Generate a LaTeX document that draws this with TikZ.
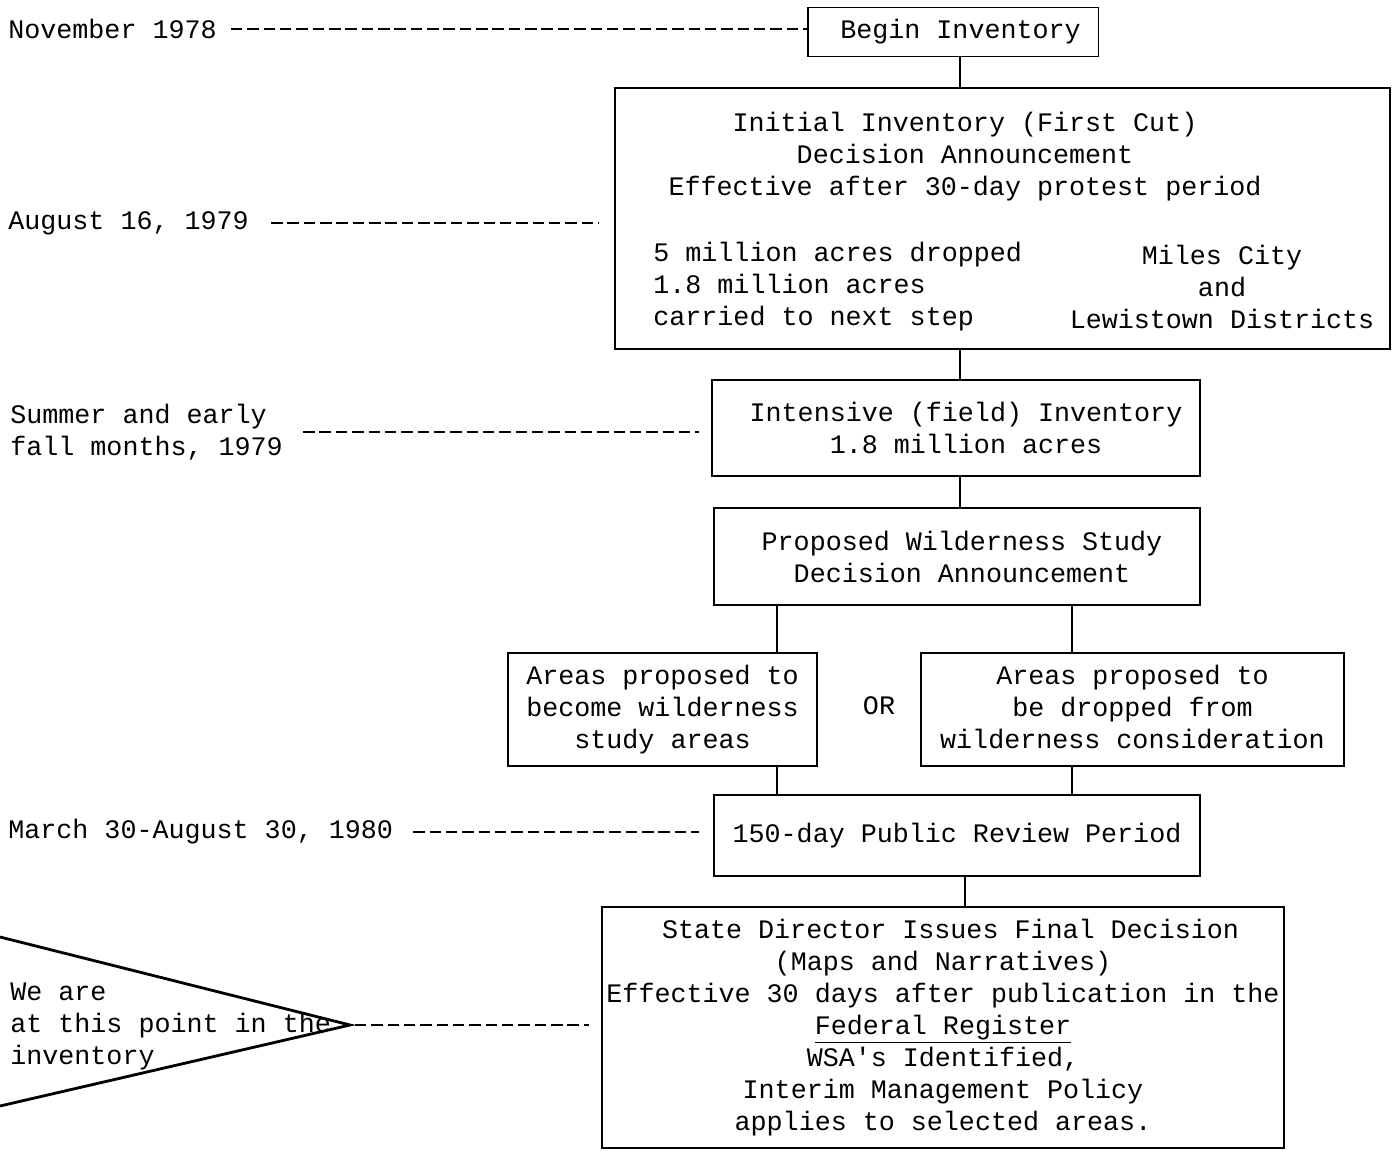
\documentclass[tikz,border=0pt]{standalone}
\usepackage{fontspec}
\setmonofont{Liberation Mono}
\usetikzlibrary{positioning,calc}

\begin{document}
\begin{tikzpicture}[x=0.02cm, y=-0.02cm,
  every node/.style={font=\ttfamily\fontsize{15.2}{18.2}\selectfont, inner sep=0pt},
  box/.style={draw, line width=1.1pt, align=center},
  lbl/.style={anchor=west, align=left},
  dashline/.style={line width=1.1pt, dash pattern=on 6.5pt off 2.8pt},
  link/.style={line width=1.3pt}]
  \useasboundingbox (0,0) rectangle (1392,1151);

  % x positions of the vertical links
  \coordinate (cx) at (960,0);
  \coordinate (lx) at (777,0);
  \coordinate (rx) at (1072,0);
  \coordinate (mx) at (965,0);

  % boxes
  \node[box, minimum width=5.82cm, minimum height=0.98cm] (begin) at (953,32) {\hspace*{0.3cm}Begin Inventory};
  \node[box, minimum width=15.5cm, minimum height=5.22cm] (initial) at (1002.5,218.5) {};
  \node[align=center] (inithead) at (965,157) {Initial Inventory (First Cut)\\Decision Announcement\\Effective after 30-day protest period};
  \node[lbl] (initleft) at (653,287) {5 million acres dropped\\1.8 million acres\\carried to next step};
  \node[align=center] (initright) at (1222,287) {Miles City\\and\\Lewistown Districts};
  \node[box, minimum width=9.76cm, minimum height=1.92cm] (intensive) at (956,428) {\hspace*{0.4cm}Intensive (field) Inventory\\\hspace*{0.4cm}1.8 million acres};
  \node[box, minimum width=9.72cm, minimum height=1.94cm] (proposed) at (957,556.5) {\hspace*{0.2cm}Proposed Wilderness Study\\\hspace*{0.2cm}Decision Announcement};
  \node[box, minimum width=6.18cm, minimum height=2.26cm] (studyareas) at (662.5,709.5) {Areas proposed to\\become wilderness\\study areas};
  \node (or) at (879,706) {OR};
  \node[box, minimum width=8.46cm, minimum height=2.26cm] (dropped) at (1132.5,709.5) {Areas proposed to\\be dropped from\\wilderness consideration\vphantom{y}};
  \node[box, minimum width=9.72cm, minimum height=1.62cm] (review) at (957,835.5) {150-day Public Review Period};
  \node[box, minimum width=13.64cm, minimum height=4.82cm] (final) at (943,1027.5) {\hspace*{0.3cm}State Director Issues Final Decision\\(Maps and Narratives)\\Effective 30 days after publication in the\\\underline{Federal Register}\\WSA's Identified,\\Interim Management Policy\\applies to selected areas.};

  % links
  \draw[link] (begin.south -| cx) -- (initial.north -| cx);
  \draw[link] (initial.south -| cx) -- (intensive.north -| cx);
  \draw[link] (intensive.south -| cx) -- (proposed.north -| cx);
  \draw[link] (proposed.south -| lx) -- (studyareas.north -| lx);
  \draw[link] (proposed.south -| rx) -- (dropped.north -| rx);
  \draw[link] (studyareas.south -| lx) -- (review.north -| lx);
  \draw[link] (dropped.south -| rx) -- (review.north -| rx);
  \draw[link] (review.south -| mx) -- (final.north -| mx);

  % dates
  \node[lbl] (nov) at (8,29) {November 1978};
  \node[lbl] (aug) at (8,223) {August 16, 1979};
  \node[lbl] (summer) at (10,432) {Summer and early\\fall months, 1979};
  \node[lbl] (march) at (8,832) {March 30-August 30, 1980};
  \draw[dashline, shorten <=0.28cm] (nov.east) -- (begin.west |- nov.east);
  \draw[dashline, shorten <=0.44cm, shorten >=0.3cm] (aug.east) -- (initial.west |- aug.east);
  \draw[dashline, shorten <=0.4cm, shorten >=0.24cm] (summer.east) -- (intensive.west |- summer.east);
  \draw[dashline, shorten <=0.4cm, shorten >=0.28cm] (march.east) -- (review.west |- march.east);

  % pointer
  \coordinate (tip) at (350,1025);
  \draw[line width=1.6pt] (0,937) -- (tip) -- (0,1106);
  \node[lbl] (here) at (10,1026) {We are\\ at this point in the\\ inventory};
  \draw[dashline, shorten <=0.1cm, shorten >=0.24cm] (tip) -- (final.west |- tip);
\end{tikzpicture}
\end{document}
